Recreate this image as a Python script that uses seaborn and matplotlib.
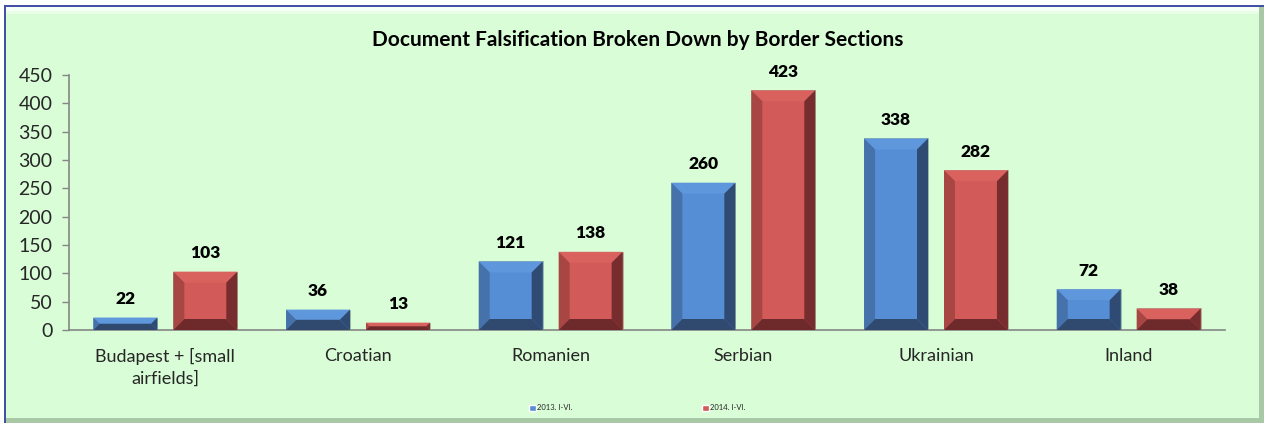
"""Document falsification by border section - bevelled bar chart."""

import numpy as np
import pandas as pd
import matplotlib
matplotlib.use("Agg")
import matplotlib.pyplot as plt
from matplotlib.patches import Polygon, Rectangle
import seaborn as sns


CATEGORIES = ["Budapest + [small\nairfields]", "Croatian", "Romanien", "Serbian", "Ukrainian", "Inland"]
SERIES = ["2013. I-VI.", "2014. I-VI."]
VALUES_2013 = [22, 36, 121, 260, 338, 72]
VALUES_2014 = [103, 13, 138, 423, 282, 38]
Y_TICKS = [0, 50, 100, 150, 200, 250, 300, 350, 400, 450]
TITLE = "Document Falsification Broken Down by Border Sections"

# face, top, left, right, bottom facet colours
BEVEL = {
    "2013. I-VI.": ("#558ed5", "#5f97dc", "#4572aa", "#2f4b74", "#30496f"),
    "2014. I-VI.": ("#d25a58", "#d9625f", "#a84644", "#772d2d", "#6e2a2a"),
}
BG = "#d9fdd6"
W, H = 1267, 425

sns.set_theme(style="white")
plt.rcParams["font.family"] = ["Lato", "DejaVu Sans"]

df = pd.DataFrame({
    "section": CATEGORIES * 2,
    "period": [SERIES[0]] * len(CATEGORIES) + [SERIES[1]] * len(CATEGORIES),
    "count": VALUES_2013 + VALUES_2014,
})

fig = plt.figure(figsize=(W / 100, H / 100), dpi=100, facecolor="white")


def fx(px):
    return px / W


def fy(py):
    return 1 - py / H


def frame_rect(x, y, w, h, color, z):
    # rectangle given in pixel units from the top-left corner
    fig.patches.append(Rectangle((fx(x), fy(y + h)), w / W, h / H, transform=fig.transFigure,
                                 facecolor=color, edgecolor="none", zorder=z))


# chart frame: green panel, blue top/left line, light top edge, shadow bottom/right
frame_rect(4, 5, 1260, 418, BG, 0)
frame_rect(6, 7, 1254, 4, "#f6fff5", 0.1)
frame_rect(6, 11, 1254, 3, "#e9fee7", 0.1)
frame_rect(6, 418, 1258, 5, "#a9c9a6", 0.1)
frame_rect(1259, 7, 5, 416, "#a9c9a6", 0.1)
frame_rect(4, 5, 1260, 2, "#4450a4", 0.2)
frame_rect(4, 5, 2, 418, "#4450a4", 0.2)

ax = fig.add_axes([fx(69), fy(330), fx(1225) - fx(69), (330 - 75) / H])
ax.set_zorder(2)
ax.set_facecolor("none")

sns.barplot(data=df, x="section", y="count", hue="period", hue_order=SERIES,
            palette=[BEVEL[s][0] for s in SERIES], width=0.83, gap=0.2,
            saturation=1, ax=ax, zorder=2)

ax.set_ylim(0, 450)
ax.set_xlim(-0.5, len(CATEGORIES) - 0.5)
ax.set_yticks(Y_TICKS)
ax.set_xlabel("")
ax.set_ylabel("")
ax.set_title(TITLE, fontsize=15, fontweight="bold", color="black", pad=21, x=0.492)

for side in ["top", "right"]:
    ax.spines[side].set_visible(False)
for side in ["left", "bottom"]:
    ax.spines[side].set_color("#868686")
    ax.spines[side].set_linewidth(1.2)
ax.tick_params(axis="y", length=5, width=1, color="#868686", pad=7, labelsize=14, direction="out", left=True)
ax.tick_params(axis="x", length=0, pad=13, labelsize=13)
for lbl in ax.get_xticklabels():
    lbl.set_linespacing(1.45)

# bevel facets derived from each drawn bar
px_per_x = (1225 - 69) / len(CATEGORIES)
px_per_y = (330 - 75) / 450
bevel_px = 11
for container, name in zip(ax.containers, SERIES):
    face, top, left, right, bottom = BEVEL[name]
    for bar in container:
        x0, y0 = bar.get_x(), bar.get_y()
        x1, y1 = x0 + bar.get_width(), y0 + bar.get_height()
        d_px = min(bevel_px, bar.get_height() * px_per_y / 2)
        dx, dy = d_px / px_per_x, d_px / px_per_y
        bar.set_edgecolor("#9fb9a0")
        bar.set_linewidth(0.6)
        facets = [
            ([(x0, y1), (x1, y1), (x1 - dx, y1 - dy), (x0 + dx, y1 - dy)], top),
            ([(x0, y0), (x0, y1), (x0 + dx, y1 - dy), (x0 + dx, y0 + dy)], left),
            ([(x1, y0), (x1, y1), (x1 - dx, y1 - dy), (x1 - dx, y0 + dy)], right),
            ([(x0, y0), (x1, y0), (x1 - dx, y0 + dy), (x0 + dx, y0 + dy)], bottom),
        ]
        for pts, col in facets:
            ax.add_patch(Polygon(pts, closed=True, facecolor=col, edgecolor="none", zorder=3))
        ax.annotate(f"{bar.get_height():.0f}", (x0 + bar.get_width() / 2, y1),
                    xytext=(0, 7.5), textcoords="offset points", ha="center", va="bottom",
                    fontsize=12.5, fontweight="heavy", color="black", zorder=4)

handles, labels = ax.get_legend_handles_labels()
ax.legend(handles, labels, loc="center", bbox_to_anchor=(fx(637), fy(408)),
          bbox_transform=fig.transFigure, ncol=2, frameon=False, fontsize=5.5,
          handlelength=0.9, handleheight=0.9, handletextpad=0.1, columnspacing=17)

fig.savefig("out.png", dpi=100, facecolor="white")
plt.close(fig)
